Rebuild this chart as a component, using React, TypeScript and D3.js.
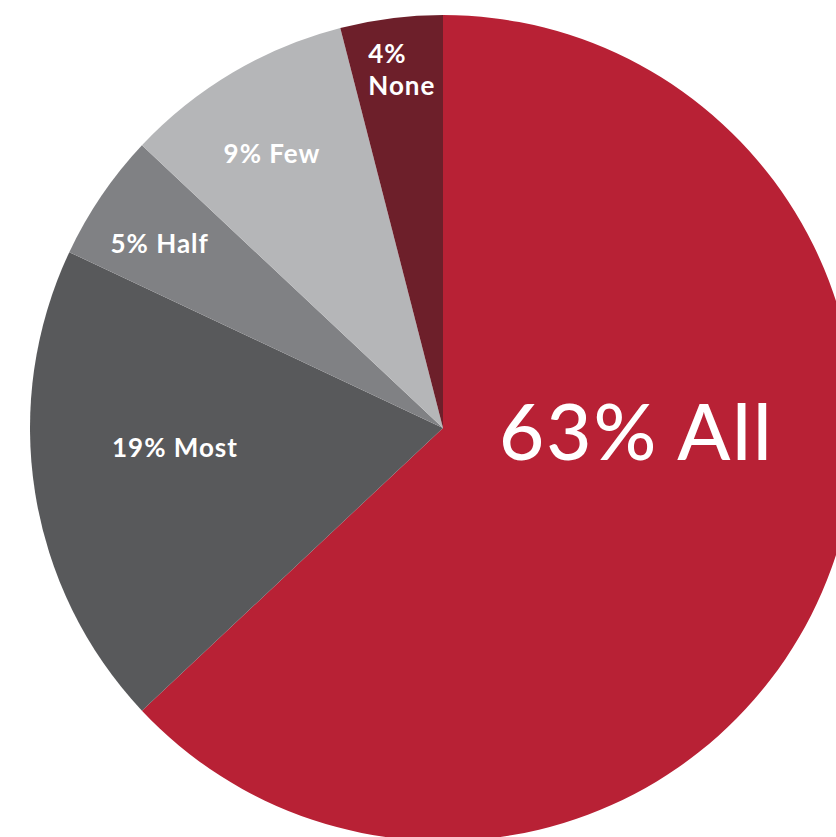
import React from "react";
import * as d3 from "d3";

const categories = ["All", "Most", "Half", "Few", "None"];
const values = [63, 19, 5, 9, 4];
const colors = ["#B82135", "#58595B", "#808184", "#B5B6B8", "#6D1F2A"];

// label placement in radius units relative to the pie centre (style only)
const labelOffsets: [number, number][] = [
  [0.468, 0.077],
  [-0.649, 0.07],
  [-0.686, -0.424],
  [-0.414, -0.642],
  [-0.181, -0.806],
];
const labelSizes = [78, 26, 26, 26, 26];
const labelSpacing = [2, 1, 1, 1, 1];

const W = 836;
const H = 837;
const cx = 443;
const cy = 428;
const R = 413;

export default function App() {
  const data = categories.map((c, i) => ({ c, v: values[i], i }));
  const pie = d3
    .pie<{ c: string; v: number; i: number }>()
    .value((d) => d.v)
    .sort(null)
    .startAngle(0)
    .endAngle(2 * Math.PI);
  const arcs = pie(data);
  const arc = d3
    .arc<d3.PieArcDatum<{ c: string; v: number; i: number }>>()
    .innerRadius(0)
    .outerRadius(R);

  return (
    <svg
      width={W}
      height={H}
      style={{ position: "absolute", left: 0, top: 0, background: "#fff" }}
    >
      <g transform={`translate(${cx},${cy})`}>
        {arcs.map((a) => (
          <path key={a.data.c} d={arc(a) || ""} fill={colors[a.data.i]} />
        ))}
        {arcs.map((a) => {
          const [ox, oy] = labelOffsets[a.data.i];
          const x = ox * R;
          const y = oy * R;
          const size = labelSizes[a.data.i];
          const label = `${a.data.v}%`;
          if (a.data.c === "None") {
            return (
              <text
                key={a.data.c}
                fill="#fff"
                fontFamily="Lato, 'Open Sans', sans-serif"
                fontWeight={700}
                fontSize={size}
                letterSpacing={labelSpacing[a.data.i]}
                textAnchor="start"
              >
                <tspan x={x} y={y - 32}>{label}</tspan>
                <tspan x={x} y={y}>{a.data.c}</tspan>
              </text>
            );
          }
          return (
            <text
              key={a.data.c}
              x={x}
              y={y}
              fill="#fff"
              fontFamily="Lato, 'Open Sans', sans-serif"
              fontWeight={a.data.c === "All" ? 500 : 700}
              fontSize={size}
              letterSpacing={labelSpacing[a.data.i]}
              textAnchor="middle"
            >
              {`${label} ${a.data.c}`}
            </text>
          );
        })}
      </g>
    </svg>
  );
}
